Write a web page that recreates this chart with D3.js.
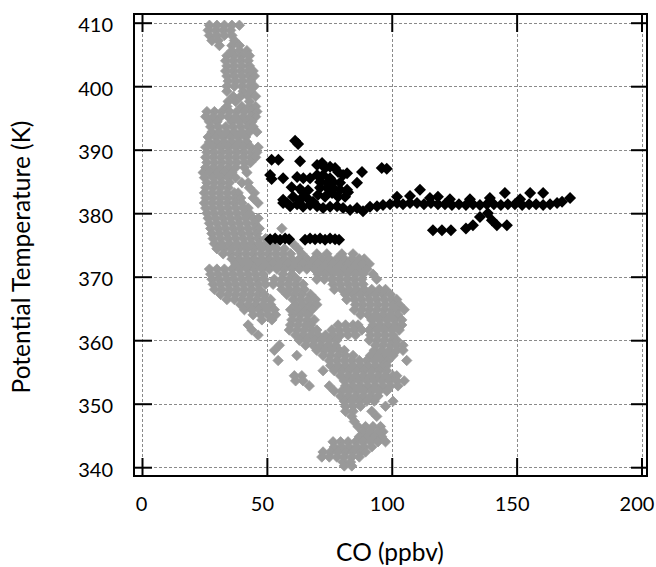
<!DOCTYPE html>
<html><head><meta charset="utf-8">
<script src="https://cdn.jsdelivr.net/npm/d3@7"></script>
<style>body{margin:0;background:#fff}svg{display:block}</style>
</head><body>
<svg id="chart" width="656" height="567"></svg>
<script>
const xTicks = [0, 50, 100, 150, 200];
const yTicks = [340, 350, 360, 370, 380, 390, 400, 410];
const xTitle = "CO (ppbv)";
const yTitle = "Potential Temperature (K)";

// gray series: rows of [theta, [CO values]]
const grayRows = [
  [409.6, [27, 30, 33, 36, 39]],
  [408.8, [26.5, 29.5, 32.5, 35.5]],
  [408.0, [27, 30, 33, 36]],
  [407.2, [28, 30.5, 37]],
  [406.4, [31, 36, 39]],
  [405.6, [36, 39, 42]],
  [404.8, [34, 37, 40, 43]],
  [404.0, [33.5, 36.5, 39.5, 42.5]],
  [403.2, [34, 37, 40, 43]],
  [402.4, [33.5, 36.5, 39.5, 42.5, 44.5]],
  [401.6, [34, 37, 40, 43, 45]],
  [400.8, [34.5, 37.5, 40.5, 43.5]],
  [400.0, [34, 37, 40, 43, 45]],
  [399.2, [34, 40.5, 43.5]],
  [398.4, [36.5, 39.5, 42.5, 45.5]],
  [397.6, [34.5, 37.5, 43]],
  [396.8, [34, 40, 43, 45.5]],
  [396.0, [26, 29, 32, 35, 38, 41, 44, 46]],
  [395.2, [25.5, 28.5, 31.5, 34.5, 37.5, 40.5, 43.5, 45.5]],
  [394.4, [27, 30, 36, 39, 42, 44]],
  [393.6, [27.5, 30.5, 33.5, 36.5, 39.5, 42.5, 44.5]],
  [392.8, [28, 31, 34, 37, 40, 43, 46]],
  [392.0, [26.5, 29.5, 32.5, 35.5, 38.5, 41.5]],
  [391.2, [27, 30, 33, 36, 39, 42]],
  [390.4, [25.5, 28.5, 31.5, 34.5, 37.5, 40.5, 43.5, 46.5]],
  [389.6, [26, 29, 32, 35, 38, 41, 44, 46]],
  [388.8, [25.5, 28.5, 31.5, 34.5, 37.5, 40.5, 43.5, 45.5]],
  [388.0, [26, 29, 32, 35, 38, 41, 43.5]],
  [387.2, [25.5, 28.5, 31.5, 34.5, 37.5, 41]],
  [386.4, [24.5, 27, 30, 33, 36, 42]],
  [385.6, [25, 28.5, 31.5, 34.5, 37.5]],
  [384.8, [26, 29, 32, 35, 40, 42.5]],
  [384.0, [25.5, 28.5, 31.5, 34.5, 43]],
  [383.2, [25, 28, 31, 34, 37, 38.5, 45]],
  [382.4, [25.5, 28.5, 31.5, 34.5, 37.5, 39.5, 44.5]],
  [381.6, [25, 28, 31, 34, 37, 40, 46.5]],
  [380.8, [25.5, 28.5, 31.5, 34.5, 37.5, 40.5, 42.5]],
  [380.0, [26, 29, 32, 35, 38, 41, 43]],
  [379.2, [26.5, 29.5, 32.5, 35.5, 38.5, 41.5, 44.5, 46.5]],
  [378.4, [27, 30, 33, 36, 39, 42, 45]],
  [377.6, [27.5, 30.5, 33.5, 36.5, 39.5, 42.5, 45.5, 47, 56]],
  [376.8, [28, 31, 34, 37, 40, 43, 46]],
  [376.0, [28.5, 31.5, 34.5, 37.5, 40.5, 43.5, 46.5, 49.5]],
  [375.2, [29, 32, 35, 38, 41, 44, 47, 50, 53, 60.5]],
  [374.4, [30, 33, 36, 39, 42, 45, 48, 51, 54, 57, 62.5]],
  [373.6, [32.5, 35.5, 38.5, 41.5, 44.5, 47.5, 50.5, 53.5, 56.5, 59.5, 64, 70, 74, 80, 84.5]],
  [372.8, [36, 39, 42, 45, 48, 51, 54, 57, 60, 63, 66, 69, 72, 75, 78, 81, 84, 87, 89]],
  [372.0, [37.5, 40.5, 43.5, 46.5, 49.5, 52.5, 55.5, 58.5, 61.5, 64.5, 67.5, 70.5, 73.5, 76.5, 79.5, 82.5, 85.5, 88.5, 91]],
  [371.2, [27, 30, 33, 36, 39, 42, 45, 48, 51, 54, 57, 60, 63, 66, 69, 72, 75, 78, 81, 84, 87, 90]],
  [370.4, [27.5, 30.5, 33.5, 36.5, 39.5, 42.5, 45.5, 48.5, 56.5, 60, 70.5, 73.5, 76.5, 79.5, 82.5, 85.5, 88.5, 92.5]],
  [369.6, [28, 31, 34, 37, 40, 43, 46, 49, 53, 56, 59, 62, 70, 73, 76, 79, 82, 85, 88, 94]],
  [368.8, [28.5, 31.5, 34.5, 37.5, 40.5, 43.5, 46.5, 49.5, 52.5, 55.5, 58.5, 61.5, 64.5, 76.5, 79.5, 82.5, 85.5, 88.5]],
  [368.0, [29, 32, 35, 38, 41, 44, 47, 56, 59, 62, 65, 77, 80, 83, 86, 89, 92, 95, 97.5]],
  [367.2, [31.5, 34.5, 37.5, 40.5, 43.5, 46.5, 49, 58, 61, 64, 67.5, 81.5, 84.5, 87.5, 90.5, 93.5, 96.5, 99.5]],
  [366.4, [34, 37, 40, 43, 46, 49, 51.5, 60.5, 63.5, 66.5, 69.5, 82, 85, 88, 91, 94, 97, 100, 102]],
  [365.6, [39.5, 42.5, 45.5, 48.5, 51.5, 61.5, 64.5, 67.5, 70, 85.5, 88.5, 91.5, 94.5, 97.5, 100.5, 103]],
  [364.8, [41, 44, 47, 50, 53, 59.5, 62.5, 65.5, 68, 85, 88, 91, 94, 97, 100, 102, 105]],
  [364.0, [44.5, 47.5, 50.5, 53.5, 60.5, 63.5, 66.5, 87.5, 90.5, 93.5, 96.5, 99.5, 102.5]],
  [363.2, [48, 52, 60, 63, 66, 69, 92, 95, 98, 101, 104]],
  [362.4, [42.5, 59.5, 62.5, 65.5, 67.5, 78.5, 81.5, 84.5, 86.5, 92.5, 95.5, 98.5, 101.5, 104]],
  [361.6, [44, 59, 62, 65, 68, 70, 76, 79, 82, 85, 88, 91, 94, 97, 100, 103]],
  [360.8, [46.5, 61.5, 64.5, 67.5, 70.5, 73.5, 76.5, 79.5, 82.5, 85.5, 91.5, 94.5, 97.5, 100.5]],
  [360.0, [63, 66, 69, 72, 75, 78, 91, 94, 97, 100, 102]],
  [359.2, [55, 65.5, 68.5, 71.5, 74.5, 77.5, 93.5, 96.5, 99.5, 102, 104.5]],
  [358.4, [53, 70, 73, 76, 79, 81, 93, 96, 99, 102, 104.5]],
  [357.6, [62, 72.5, 75.5, 78.5, 81.5, 84.5, 91.5, 94.5, 97.5, 100.5]],
  [356.8, [54.5, 75, 78, 81, 84, 87, 90, 93, 96, 98.5, 106]],
  [356.0, [75.5, 78.5, 81.5, 84.5, 87.5, 90.5, 93.5, 96.5, 98]],
  [355.2, [72.5, 77, 80, 83, 86, 89, 92, 95, 98]],
  [354.4, [61, 64, 79.5, 82.5, 85.5, 88.5, 91.5, 94.5, 97.5, 100.5, 102]],
  [353.6, [61.5, 64.5, 81, 84, 87, 90, 93, 96, 99, 102, 105]],
  [352.8, [67, 75, 81.5, 84.5, 87.5, 90.5, 93.5, 96.5, 99.5, 102.5]],
  [352.0, [77, 80, 83, 86, 89, 92, 95, 98]],
  [351.2, [79.5, 82.5, 85.5, 88.5, 91.5, 94.5]],
  [350.4, [81, 84, 87, 90, 93, 100.5]],
  [349.6, [81.5, 84.5, 87.5, 97.5]],
  [348.8, [81.5, 84.5, 92]],
  [348.0, [84, 94]],
  [347.2, [85]],
  [346.4, [86.5, 89.5, 92.5, 95.5]],
  [345.6, [88.5, 91.5, 94.5, 96.5]],
  [344.8, [87, 90, 93, 96]],
  [344.0, [76.5, 79.5, 82.5, 85.5, 88.5, 91.5, 94.5, 97.5]],
  [343.2, [77, 80, 83, 86, 89, 92]],
  [342.4, [72.5, 75.5, 78.5, 81.5, 84.5, 87.5, 89.5]],
  [341.6, [72, 75, 78, 81, 84, 87]],
  [340.8, [80.5, 83.5]],
  [340.2, [81, 84]]
];

// black series: [CO, theta]
const blackPoints = [
  [61.3,391.4],[62.5,390.9],
  [51.9,388.4],[54.6,388.4],[63.3,388.2],
  [51.3,386.0],[51.9,385.4],[56.5,385.5],[59.9,384.1],
  [62.1,385.7],[64.6,385.5],[67.3,385.5],
  [63.3,383.8],[64.5,383.3],[66.5,383.6],
  [56.5,382.1],[58.1,381.6],[60.5,382.6],[63.3,382.1],[66.1,382.4],[68.5,381.8],
  [70.1,387.6],[72.1,387.9],[73.3,387.1],[75.3,387.3],[77.3,387.1],[78.5,386.5],[80.5,386.0],[82.1,386.3],
  [70.1,386.0],[72.5,386.0],[75.3,385.5],[71.3,384.9],[74.1,384.8],[76.5,384.9],[79.3,384.8],
  [71.3,384.0],[74.1,384.0],[76.5,384.0],[79.3,383.7],[82.1,383.7],
  [70.5,382.9],[73.3,382.6],[76.1,383.2],[78.5,382.6],[81.3,382.6],[82.5,383.3],
  [86.1,384.8],[88.1,386.5],[96.0,387.1],[98.0,387.0],
  [56.5,381.6],[59.3,381.1],[62.1,381.4],[64.5,381.0],[67.3,381.3],[70.1,381.1],[72.5,380.8],[75.3,381.0],[78.1,381.1],[80.5,380.8],
  [83.3,380.5],[86.1,380.8],[88.5,380.3],[91.3,381.0],[94.1,381.1],[96.5,381.3],[99.3,381.4],[102.1,381.6],[104.5,381.4],
  [107.3,381.6],[110.1,381.6],[112.9,381.4],[115.7,381.6],[118.5,381.4],[121.3,381.4],[124.1,381.3],[126.9,381.4],
  [129.7,381.3],[132.5,381.4],[135.3,381.3],[138.1,381.4],[140.9,381.4],[143.7,381.3],[146.5,381.4],[149.3,381.4],
  [152.2,381.3],[155.0,381.4],[157.8,381.4],[160.6,381.3],[163.4,381.4],[166.2,381.6],
  [102.1,382.6],[107.3,382.7],[111.3,383.7],[115.3,382.4],[118.5,382.6],[145.3,383.2],[155.4,383.2],[160.6,383.2],
  [168.2,381.8],[171.4,382.4],[151.4,382.2],[139.3,382.4],[131.3,382.2],[123.3,382.2],
  [116.5,377.3],[120.1,377.3],[123.7,377.3],[129.7,377.6],[132.5,378.1],[135.3,379.4],[138.5,380.0],[140.1,378.9],[142.1,378.1],[146.1,378.1],
  [51.3,375.9],[53.3,376.0],[55.3,375.8],[57.3,376.0],[58.9,375.9],
  [65.3,375.8],[67.3,376.0],[69.3,375.9],[71.3,376.0],[73.3,375.8],[75.3,376.0],[77.3,375.9],[78.9,375.8]
];

const FONT = "Lato, 'Noto Sans', sans-serif";
const svg = d3.select("#chart");
const frame = {left: 134, top: 14, right: 647, bottom: 476};
const x = d3.scaleLinear().domain([0, 200]).range([142, 641.5]);
const y = d3.scaleLinear().domain([340, 410]).range([467.2, 22.7]);

// grid
const grid = svg.append("g").attr("stroke", "#8a8a8a").attr("stroke-width", 1).attr("stroke-dasharray", "3,2");
grid.selectAll("line.vx").data(xTicks).join("line")
  .attr("x1", d => Math.round(x(d)) + 0.5).attr("x2", d => Math.round(x(d)) + 0.5)
  .attr("y1", frame.top).attr("y2", frame.bottom);
grid.selectAll("line.hy").data(yTicks).join("line")
  .attr("y1", d => Math.round(y(d)) + 0.5).attr("y2", d => Math.round(y(d)) + 0.5)
  .attr("x1", frame.left).attr("x2", frame.right);

// points
const grayPts = grayRows.flatMap(([t, cos]) => cos.map(c => [c, t]));
const diamond = r => `M0,${-r}L${r},0L0,${r}L${-r},0Z`;
svg.append("g").selectAll("path").data(grayPts).join("path")
  .attr("d", diamond(5.2)).attr("fill", "#999999")
  .attr("stroke", "#999999").attr("stroke-width", 0.8)
  .attr("transform", d => `translate(${x(d[0])},${y(d[1])})`);
svg.append("g").selectAll("path").data(blackPoints).join("path")
  .attr("d", diamond(6)).attr("fill", "#000000")
  .attr("transform", d => `translate(${x(d[0])},${y(d[1])})`);

// axes (ticks inward)
function styleAxis(g) {
  g.select(".domain").remove();
  g.selectAll(".tick line").attr("stroke", "#000").attr("stroke-width", 2);
  g.selectAll("text").attr("font-family", FONT).attr("font-size", 20).attr("fill", "#000");
}
svg.append("g").attr("transform", `translate(${frame.left},0)`)
  .call(d3.axisLeft(y).tickValues(yTicks).tickSizeInner(-18).tickSizeOuter(0).tickPadding(21).tickFormat(d3.format("d")))
  .call(styleAxis).call(g => g.selectAll("text").attr("dy", "0.45em"));
svg.append("g").attr("transform", `translate(${frame.right},0)`)
  .call(d3.axisRight(y).tickValues(yTicks).tickSizeInner(-16).tickSizeOuter(0).tickFormat(""))
  .call(styleAxis);
svg.append("g").attr("transform", `translate(0,${frame.bottom})`)
  .call(d3.axisBottom(x).tickValues(xTicks).tickSizeInner(-18).tickSizeOuter(0).tickPadding(21).tickFormat(d3.format("d")))
  .call(styleAxis).call(g => g.selectAll("text").attr("dx", d => d === 0 ? "-1" : "-5"));
svg.append("g").attr("transform", `translate(0,${frame.top})`)
  .call(d3.axisTop(x).tickValues(xTicks).tickSizeInner(-18).tickSizeOuter(0).tickFormat(""))
  .call(styleAxis);

// frame
svg.append("rect").attr("x", frame.left).attr("y", frame.top)
  .attr("width", frame.right - frame.left).attr("height", frame.bottom - frame.top)
  .attr("fill", "none").attr("stroke", "#000").attr("stroke-width", 2);

// titles
svg.append("text").attr("x", 390).attr("y", 561).attr("text-anchor", "middle")
  .attr("font-family", FONT).attr("font-size", 24.5).text(xTitle);
svg.append("text").attr("transform", "translate(30,257) rotate(-90)").attr("text-anchor", "middle")
  .attr("font-family", FONT).attr("font-size", 24.5).text(yTitle);
</script>
</body></html>
